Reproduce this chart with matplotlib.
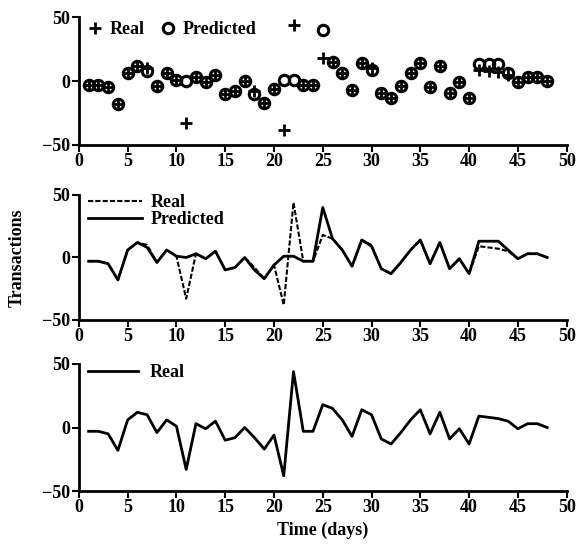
import matplotlib
matplotlib.use('Agg')
import matplotlib.pyplot as plt

plt.rcParams['font.family'] = 'Liberation Serif'
plt.rcParams['font.weight'] = 'bold'

days = list(range(1, 49))
real = [-3, -3, -5, -18, 6, 12, 10, -4, 6, 1, -33, 3, -1, 5, -10, -8, 0, -8, -17, -6,
        -38, 44, -3, -3, 18, 15, 6, -7, 14, 10, -9, -13, -4, 6, 14, -5, 12, -9, -1, -13,
        9, 8, 7, 5, -1, 3, 3, 0]
predicted = [-3, -3, -5, -18, 6, 12, 8, -4, 6, 1, 0, 3, -1, 5, -10, -8, 0, -10, -17, -6,
             1, 1, -3, -3, 40, 15, 6, -7, 14, 9, -9, -13, -4, 6, 14, -5, 12, -9, -1, -13,
             13, 13, 13, 6, -1, 3, 3, 0]

xticks = [0, 5, 10, 15, 20, 25, 30, 35, 40, 45, 50]
yticks = [-50, 0, 50]

fig = plt.figure(figsize=(5.8, 5.44), dpi=100)
L, W = 0.136, 0.841
ax1 = fig.add_axes([L, 0.7335, W, 0.235])
ax2 = fig.add_axes([L, 0.4118, W, 0.2298])
ax3 = fig.add_axes([L, 0.0974, W, 0.2335])

for ax in (ax1, ax2, ax3):
    ax.set_xlim(0, 50)
    ax.set_ylim(-50, 50)
    ax.set_xticks(xticks)
    ax.set_yticks(yticks)
    ax.spines['top'].set_visible(False)
    ax.spines['right'].set_visible(False)
    ax.spines['left'].set_linewidth(2)
    ax.spines['bottom'].set_linewidth(2)
    ax.tick_params(direction='out', length=5, width=1.5, labelsize=13, pad=1)
    for lab in ax.get_xticklabels() + ax.get_yticklabels():
        lab.set_fontweight('bold')

# top: markers
ax1.plot(days, real, linestyle='none', marker='+', color='black', markersize=8.5,
         markeredgewidth=2, label='Real', clip_on=False)
ax1.plot(days, predicted, linestyle='none', marker='o', markerfacecolor='none',
         markeredgecolor='black', markersize=7.5, markeredgewidth=2.2, label='Predicted',
         clip_on=False)
ax1.legend(loc='upper left', ncol=2, frameon=False, fontsize=13, handlelength=0.8,
           handletextpad=0.4, columnspacing=0.9, borderaxespad=0.1,
           bbox_to_anchor=(0.0, 1.04))

# middle: real dashed, predicted solid
ax2.plot(days, real, color='black', linestyle=(0, (2.5, 1)), linewidth=1.5, label='Real')
ax2.plot(days, predicted, color='black', linewidth=2, label='Predicted')
ax2.legend(loc='upper left', frameon=False, fontsize=13, handlelength=3.0,
           handletextpad=0.5, labelspacing=0.0, borderaxespad=0.1,
           bbox_to_anchor=(0.0, 1.08))
ax2.set_ylabel('Transactions', fontsize=13, fontweight='bold', labelpad=12)

# bottom: real only
ax3.plot(days, real, color='black', linewidth=2, label='Real')
ax3.legend(loc='upper left', frameon=False, fontsize=13, handlelength=2.8,
           handletextpad=0.6, borderaxespad=0.1, bbox_to_anchor=(0.0, 1.07))
ax3.set_xlabel('Time (days)', fontsize=13, fontweight='bold', labelpad=4)

fig.savefig('out.png', dpi=100)
